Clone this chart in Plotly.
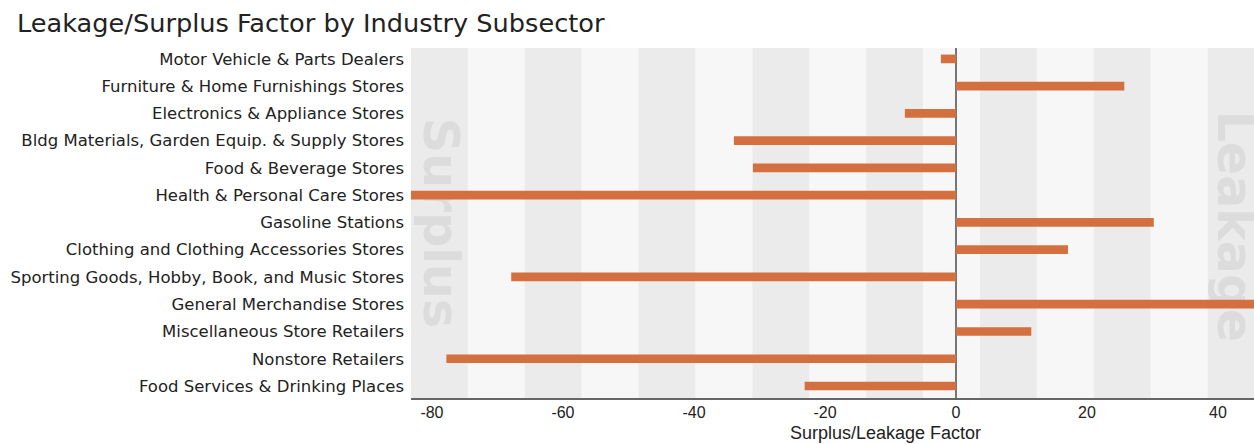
import plotly.graph_objects as go

categories = [
    "Motor Vehicle & Parts Dealers",
    "Furniture & Home Furnishings Stores",
    "Electronics & Appliance Stores",
    "Bldg Materials, Garden Equip. & Supply Stores",
    "Food & Beverage Stores",
    "Health & Personal Care Stores",
    "Gasoline Stations",
    "Clothing and Clothing Accessories Stores",
    "Sporting Goods, Hobby, Book, and Music Stores",
    "General Merchandise Stores",
    "Miscellaneous Store Retailers",
    "Nonstore Retailers",
    "Food Services & Drinking Places",
]
factors = [-2.3, 25.7, -7.8, -33.9, -31.0, -86.0, 30.2, 17.1, -67.9, 48.0, 11.5, -77.8, -23.1]

x_range = [-83.2, 45.5]
tick_vals = [-80, -60, -40, -20, 0, 20, 40]
tick_text = ["-80", "-60", "-40", "-20", "0", "20", "40"]

W, H = 1254, 444
ML, MR, MT, MB = 411, 0, 48, 46
pw = W - ML - MR
ph = H - MT - MB

fig = go.Figure()
fig.add_trace(go.Bar(
    y=categories, x=factors, orientation="h",
    marker=dict(color="#d4703f", line=dict(width=0)),
    width=0.32, hoverinfo="x+y",
))

# alternating background stripes
shapes = []
band = 0.0675
i = 0
while i * band < 1:
    shapes.append(dict(
        type="rect", xref="x domain", yref="y domain",
        x0=i * band, x1=min((i + 1) * band, 1), y0=0, y1=1,
        fillcolor="#ebebeb" if i % 2 == 0 else "#f7f7f7",
        line=dict(width=0), layer="below",
    ))
    i += 1

# watermark labels (below the bars)
def wm(text, xc, yc):
    return dict(
        type="rect", xref="x domain", yref="y domain",
        x0=xc - 0.03, x1=xc + 0.03, y0=yc - 0.3, y1=yc + 0.3,
        fillcolor="rgba(0,0,0,0)", line=dict(width=0), layer="below",
        label=dict(text=text, textangle=90, textposition="middle center",
                   font=dict(family="DejaVu Sans", size=49, color="#dcdcdc", weight="bold")),
    )

shapes.append(wm("Surplus", (444 - ML) / pw, 0.50))
shapes.append(wm("Leakage", (1238 - ML) / pw, 0.49))

fig.update_layout(
    width=W, height=H,
    margin=dict(l=ML, r=MR, t=MT, b=MB, pad=0),
    paper_bgcolor="white", plot_bgcolor="#f7f7f7",
    showlegend=False,
    shapes=shapes,
    title=dict(
        text="Leakage/Surplus Factor by Industry Subsector",
        x=17 / W, xanchor="left", xref="container",
        y=1 - 23 / H, yanchor="middle",
        font=dict(family="DejaVu Sans", size=25.6, color="#222222"),
    ),
    xaxis=dict(
        range=x_range, tickvals=tick_vals, ticktext=tick_text, showgrid=False,
        zeroline=True, zerolinecolor="#777777", zerolinewidth=1.5,
        showline=True, linecolor="#666666", linewidth=1.5,
        ticks="", tickfont=dict(family="Liberation Sans", size=16, color="#222222"),
        ticklabelstandoff=-1,
        fixedrange=True,
    ),
    yaxis=dict(
        range=[12.44, -0.40], showgrid=False, ticks="", showline=False,
        tickfont=dict(family="DejaVu Sans", size=16.5, color="#222222"),
        ticklabelstandoff=6,
    ),
    annotations=[dict(
        text="Surplus/Leakage Factor", xref="paper", yref="paper",
        x=(885 - ML) / pw, y=-(433 - (H - MB)) / ph,
        xanchor="center", yanchor="middle", showarrow=False,
        font=dict(family="Liberation Sans", size=18, color="#222222"),
    )],
)

fig.write_html("out.html")
